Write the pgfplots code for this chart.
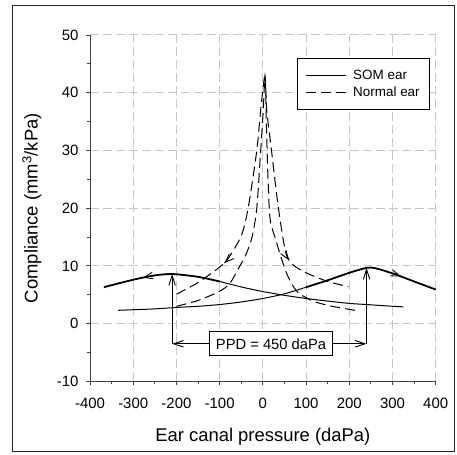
\documentclass[border=0pt]{standalone}
\usepackage{fontspec}
\setmainfont{Liberation Sans}
\usepackage{pgfplots}
\usepackage{pgfplotstable}
\pgfplotsset{compat=1.18}
\usetikzlibrary{arrows.meta,decorations.markings}

\pgfplotstableread{
x y
-335 2.3
-300 2.4
-250 2.55
-200 2.8
-150 3.0
-100 3.3
-50 3.75
0 4.35
50 5.15
100 6.3
}\somAthin
\pgfplotstableread{
x y
100 6.3
150 7.5
200 8.8
240 9.65
260 9.6
300 8.7
350 7.3
400 5.9
}\somAthick
\pgfplotstableread{
x y
325 2.9
300 3.0
250 3.25
200 3.5
150 3.9
100 4.35
50 4.9
0 5.55
-50 6.35
-100 7.3
}\somBthin
\pgfplotstableread{
x y
-100 7.3
-150 8.1
-200 8.55
-215 8.6
-250 8.35
-300 7.6
-368 6.3
}\somBthick
\pgfplotstableread{
x y
-200 3.0
-150 4.0
-100 5.6
-76 7.0
-53 10.0
-40 11.8
-25 15
-14 20
-5 30
1 37
5 43
9 37
20 30
36 20
53 12.3
70 10.2
100 8.8
150 7.3
198 6.4
}\normA
\pgfplotstableread{
x y
213 2.3
160 3.0
120 3.8
86 5.1
70 6.5
55 8.7
42 11.5
30 14.5
17 18
12 25
8 35
5 43
-5 37
-14 30
-34 20
-50 15.2
-80 11.3
-100 9.8
-150 7.1
-200 5.1
}\normB

\tikzset{
  endarrow/.style={postaction={decorate},
    decoration={markings, mark=at position #1 with {\arrow[solid,line width=0.9bp]{Straight Barb[length=9bp,width=6.5bp]}}}},
}

\begin{document}
\begin{tikzpicture}
\begin{axis}[
  scale only axis, width=345.7bp, height=346.3bp,
  xmin=-400, xmax=400, ymin=-10, ymax=50,
  axis x line*=bottom, axis y line*=left,
  axis line style={line width=1bp, color=black!75, -},
  xtick={-400,-300,...,400}, ytick={-10,0,...,50},
  minor x tick num=1, minor y tick num=1,
  tick align=outside, major tick length=4bp, minor tick length=3bp,
  every tick/.style={black!75, line width=0.9bp},
  grid=major,
  major grid style={color=black!22, line width=1bp, dash pattern=on 9bp off 4bp},
  /pgf/number format/assume math mode=true,
  ticklabel style={font=\fontsize{15}{18}\selectfont},
  xticklabel style={yshift=-9bp},
  yticklabel style={xshift=-4bp},
  xlabel={Ear canal pressure (daPa)},
  ylabel={Compliance (mm\textsuperscript{3}/kPa)},
  xlabel style={font=\fontsize{18.5}{22}\selectfont, at={(axis description cs:0.5,-0.1744)}, anchor=base},
  ylabel style={font=\fontsize{18.5}{22}\selectfont, at={(axis description cs:-0.168,0.5)}, anchor=center},
  legend style={at={(0.984,0.933)}, anchor=north east, draw=black, line width=0.9bp,
    font=\fontsize{13.5}{16}\selectfont, inner xsep=8bp, inner ysep=9.5bp, row sep=2bp},
  legend cell align=left,
  legend image code/.code={\draw[#1] (0bp,0bp) -- (40bp,0bp); \path (45bp,0bp);},
  clip=false,
]
\addlegendimage{black, line width=1bp}
\addlegendentry{SOM ear}
\addlegendimage{black, line width=1bp, dash pattern=on 10bp off 5bp}
\addlegendentry{Normal ear}
\addplot[black, line width=1bp, smooth, forget plot] table {\somAthin};
\addplot[black, line width=1bp, dash pattern=on 10bp off 5bp, smooth, tension=0.45, endarrow=-66bp, forget plot] table {\normA};
\addplot[black, line width=1bp, dash pattern=on 10bp off 5bp, smooth, tension=0.45, endarrow=-57bp, forget plot] table {\normB};
\addplot[black, line width=1.8bp, smooth, endarrow=-37bp, forget plot] table {\somAthick};
\addplot[black, line width=1bp, smooth, forget plot] table {\somBthin};
\addplot[black, line width=1.8bp, smooth, endarrow=-40bp, forget plot] table {\somBthick};

\draw[line width=0.9bp, -{Straight Barb[length=10bp,width=6.5bp]}] (axis cs:-210,-3.5) -- (axis cs:-210,8.6);
\draw[line width=0.9bp, -{Straight Barb[length=10bp,width=6.5bp]}] (axis cs:240,-3.5) -- (axis cs:240,9.65);
\draw[line width=0.9bp, {Straight Barb[length=10bp,width=6.5bp]}-{Straight Barb[length=10bp,width=6.5bp]}] (axis cs:-210,-3.5) -- (axis cs:240,-3.5);
\node[draw=black, line width=0.9bp, fill=white, inner xsep=6bp, inner ysep=6.5bp,
  font=\fontsize{14.8}{17}\selectfont] at (axis cs:19,-3.5) {PPD = 450 daPa};
\end{axis}
\path ([shift={(-90bp,-72.7bp)}]current axis.south west) rectangle ([shift={(21.3bp,35bp)}]current axis.north east);
\draw[line width=1.5bp, black!85] ([shift={(-77.3bp,-70.2bp)}]current axis.south west) rectangle ([shift={(18.8bp,29.5bp)}]current axis.north east);
\end{tikzpicture}
\end{document}
